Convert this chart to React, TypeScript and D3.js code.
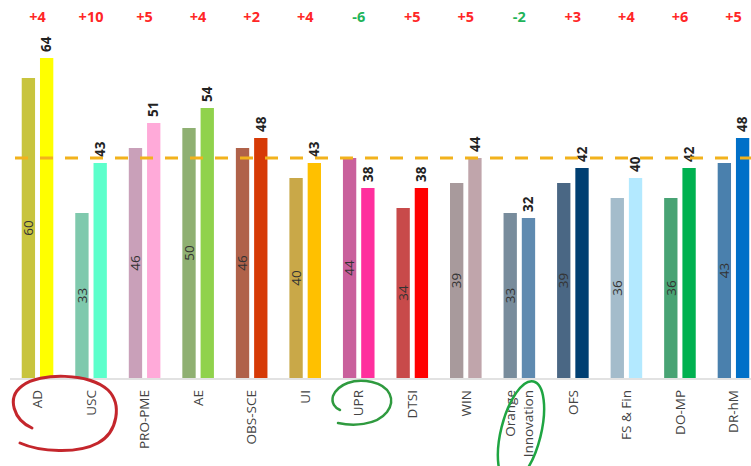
import React from "react";
import * as d3 from "d3";

// chart values
const categories = ["AD", "USC", "PRO-PME", "AE", "OBS-SCE", "UI", "UPR", "DTSI", "WIN", "Orange\nInnovation", "OFS", "FS & Fin", "DO-MP", "DR-hM"];
const previous = [60, 33, 46, 50, 46, 40, 44, 34, 39, 33, 39, 36, 36, 43];
const current = [64, 43, 51, 54, 48, 43, 38, 38, 44, 32, 42, 40, 42, 48];
const deltas = ["+4", "+10", "+5", "+4", "+2", "+4", "-6", "+5", "+5", "-2", "+3", "+4", "+6", "+5"];
const average = 44;

const prevColors = ["#c8c43e", "#7fc9ad", "#c9a0b9", "#8fb072", "#b0624a", "#c9a848", "#c9609c", "#c84a4a", "#a89a9c", "#788c9c", "#4a6784", "#a4bccb", "#48a374", "#4a80ad"];
const currColors = ["#ffff00", "#5cffcb", "#ffaad9", "#90d24c", "#d63a06", "#ffc000", "#ff2f9d", "#ff0000", "#c0a5ab", "#5f8ab0", "#003f72", "#b3e9ff", "#00b150", "#0070c8"];

const W = 751;
const H = 466;
const FONT = "'Open Sans', 'Segoe UI', sans-serif";

export default function App() {
  const x = d3.scaleBand<string>()
    .domain(categories)
    .range([10.75, 760.25])
    .paddingInner(0.41)
    .paddingOuter(0.205);
  const inner = d3.scaleBand<string>()
    .domain(["prev", "curr"])
    .range([0, x.bandwidth()])
    .paddingInner(0.27);
  const y = d3.scaleLinear().domain([0, 64]).range([378, 58]);

  return (
    <svg width={W} height={H} style={{ position: "absolute", left: 0, top: 0, background: "#fff" }} fontFamily={FONT}>
      {/* baseline */}
      <line x1={10} x2={W} y1={y(0) + 1} y2={y(0) + 1} stroke="#d9d9d9" strokeWidth={1.5} />

      {categories.map((c, i) => {
        const gx = x(c)!;
        const cx = gx + x.bandwidth() / 2;
        const px = gx + inner("prev")!;
        const qx = gx + inner("curr")!;
        const bw = inner.bandwidth();
        const lines = c.split("\n");
        return (
          <g key={c}>
            <rect x={px} y={y(previous[i])} width={bw} height={y(0) - y(previous[i])} fill={prevColors[i]} />
            <rect x={qx} y={y(current[i])} width={bw} height={y(0) - y(current[i])} fill={currColors[i]} />
            {/* value of previous year, inside bar */}
            <text
              transform={`translate(${px + bw / 2},${(y(previous[i]) + y(0)) / 2}) rotate(-90)`}
              textAnchor="middle" dy="0.35em" fontSize={13.5} fill="#333"
            >{previous[i]}</text>
            {/* value of current year, above bar */}
            <text
              transform={`translate(${qx + bw / 2},${y(current[i]) - 6}) rotate(-90)`}
              textAnchor="start" dy="0.35em" fontSize={13.5} fontWeight="bold" fill="#222"
            >{current[i]}</text>
            {/* delta on top */}
            <text x={cx} y={22} textAnchor="middle" fontSize={14.5} fontWeight="bold"
              fill={deltas[i].startsWith("-") ? "#1fb45a" : "#ff2626"}>{deltas[i]}</text>
            {/* category label */}
            {lines.map((l, j) => (
              <text key={j}
                transform={`translate(${cx + (j - (lines.length - 1) / 2) * 18},${y(0) + 12}) rotate(-90)`}
                textAnchor="end" dy="0.35em" fontSize={13.5} fill="#444"
              >{l}</text>
            ))}
          </g>
        );
      })}

      {/* average line */}
      <line x1={15} x2={W} y1={y(average)} y2={y(average)} stroke="#f2b21c" strokeWidth={3} strokeDasharray="13 12" />

      {/* hand-drawn annotations */}
      <path d="M32,428 C14,420 6,398 22,386 C40,372 90,373 108,390 C122,404 118,432 98,443 C78,454 40,452 20,443"
        fill="none" stroke="#c4262c" strokeWidth={3} strokeLinecap="round" />
      <path d="M338,423 C352,426 376,426 387,412 C396,400 390,386 372,382 C354,378 338,384 333,396 C331,403 335,408 340,410"
        fill="none" stroke="#2f9a3f" strokeWidth={2.5} strokeLinecap="round" />
      <ellipse cx={521} cy={432} rx={20} ry={52} transform="rotate(14 521 432)"
        fill="none" stroke="#1fa542" strokeWidth={2.5} />
    </svg>
  );
}
